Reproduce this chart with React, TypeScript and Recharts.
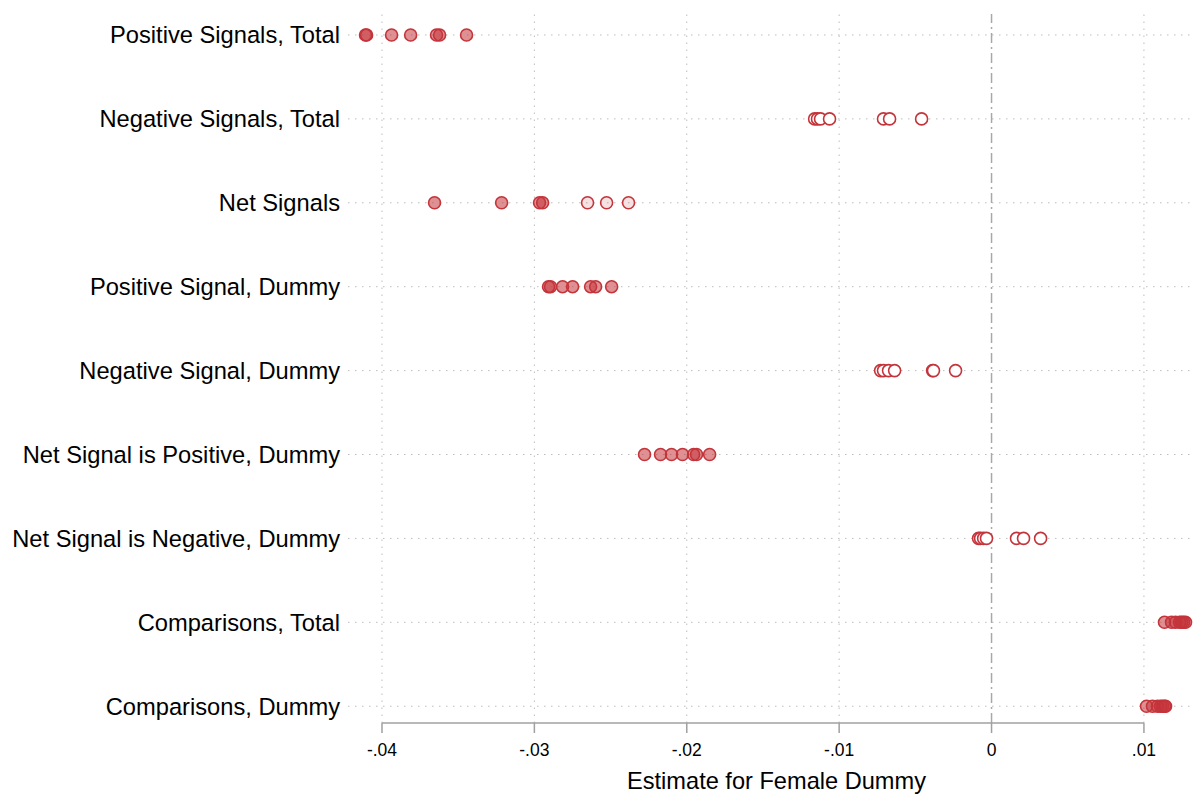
import React from 'react';
import {
  ScatterChart,
  Scatter,
  XAxis,
  YAxis,
  ReferenceLine,
} from 'recharts';

// Row labels, top to bottom
const rowLabels = [
  'Positive Signals, Total',
  'Negative Signals, Total',
  'Net Signals',
  'Positive Signal, Dummy',
  'Negative Signal, Dummy',
  'Net Signal is Positive, Dummy',
  'Net Signal is Negative, Dummy',
  'Comparisons, Total',
  'Comparisons, Dummy',
];

// Estimates per row
const positiveSignalsTotal = [-0.04108, -0.04101, -0.03937, -0.03812, -0.03642, -0.03622, -0.03445];
const negativeSignalsTotal = [-0.01161, -0.01142, -0.01122, -0.01063, -0.00709, -0.00669, -0.00459];
const netSignalsStrong = [-0.03655, -0.03215, -0.02966, -0.02946];
const netSignalsWeak = [-0.02651, -0.02526, -0.02382];
const positiveSignalDummy = [-0.02907, -0.02894, -0.02815, -0.02749, -0.02631, -0.02598, -0.02493];
const negativeSignalDummy = [-0.00728, -0.00709, -0.00676, -0.00636, -0.00387, -0.00381, -0.00236];
const netPositiveDummy = [-0.02277, -0.02172, -0.021, -0.02028, -0.01955, -0.01936, -0.0185];
const netNegativeDummy = [-0.00085, -0.00072, -0.00052, -0.00033, 0.00164, 0.0021, 0.00322];
const comparisonsTotal = [0.01135, 0.01181, 0.01207, 0.01234, 0.01247, 0.0126, 0.01273];
const comparisonsDummy = [0.01017, 0.01056, 0.01089, 0.01109, 0.01122, 0.01135, 0.01142];

const xTicks = [-0.04, -0.03, -0.02, -0.01, 0, 0.01];
const rowTicks = [0, 1, 2, 3, 4, 5, 6, 7, 8];

const toPoints = (values: number[], row: number) => values.map((x) => ({ x, y: row }));

const filledSeries = [
  toPoints(positiveSignalsTotal, 0),
  toPoints(netSignalsStrong, 2),
  toPoints(positiveSignalDummy, 3),
  toPoints(netPositiveDummy, 5),
  toPoints(comparisonsTotal, 7),
  toPoints(comparisonsDummy, 8),
].flat();
const lightSeries = toPoints(netSignalsWeak, 2);
const hollowSeries = [
  toPoints(negativeSignalsTotal, 1),
  toPoints(negativeSignalDummy, 4),
  toPoints(netNegativeDummy, 6),
].flat();

const RED = '#c4343b';
const GRID = '#bdbdbd';

const makeDot = (fill: string, fillOpacity: number) => (props: any) => (
  <circle
    cx={props.cx}
    cy={props.cy}
    r={6}
    fill={fill}
    fillOpacity={fillOpacity}
    stroke={RED}
    strokeWidth={1.6}
  />
);

const formatX = (v: number) => {
  if (v === 0) return '0';
  const s = Math.abs(v).toFixed(2).replace(/^0/, '');
  return v < 0 ? `-${s}` : s;
};

const App = () => {
  return (
    <div style={{ position: 'absolute', left: 0, top: 0, fontFamily: '"Liberation Sans", Arial, sans-serif' }}>
      <ScatterChart width={1193} height={794} margin={{ top: 14, right: 0, bottom: 0, left: 0 }}>
        <XAxis
          type="number"
          dataKey="x"
          domain={[-0.04223, 0.01322]}
          allowDataOverflow
          ticks={xTicks}
          tickFormatter={formatX}
          axisLine={false}
          tickLine={{ stroke: '#a0a0a0', strokeWidth: 1.5 }}
          tickSize={10}
          tickMargin={11}
          tick={{ fontSize: 17.5, fill: '#000' }}
          height={71}
          label={{ value: 'Estimate for Female Dummy', position: 'insideBottom', offset: 5, fontSize: 23.6, fill: '#000', dx: 6 }}
        />
        <YAxis
          type="number"
          dataKey="y"
          domain={[-0.25, 8.2]}
          reversed
          ticks={rowTicks}
          interval={0}
          tickFormatter={(i: number) => rowLabels[i] ?? ''}
          axisLine={false}
          tickLine={false}
          width={348}
          tick={{ fontSize: 23.7, fill: '#000' }}
        />
        {rowTicks.map((r) => (
          <ReferenceLine key={`h${r}`} y={r} stroke={GRID} strokeDasharray="1.5 5.5" />
        ))}
        {xTicks.filter((t) => t !== 0).map((t) => (
          <ReferenceLine key={`v${t}`} x={t} stroke={GRID} strokeDasharray="1.5 5.5" />
        ))}
        <ReferenceLine x={0} stroke="#a8a8a8" strokeWidth={1.5} strokeDasharray="10 4 2 4" />
        <ReferenceLine
          segment={[{ x: -0.04, y: 8.2 }, { x: 0.01, y: 8.2 }]}
          stroke="#a0a0a0"
          strokeWidth={1.5}
          ifOverflow="visible"
        />
        <Scatter data={hollowSeries} shape={makeDot('#ffffff', 1)} isAnimationActive={false} />
        <Scatter data={lightSeries} shape={makeDot(RED, 0.15)} isAnimationActive={false} />
        <Scatter data={filledSeries} shape={makeDot(RED, 0.55)} isAnimationActive={false} />
      </ScatterChart>
    </div>
  );
};

export default App;
